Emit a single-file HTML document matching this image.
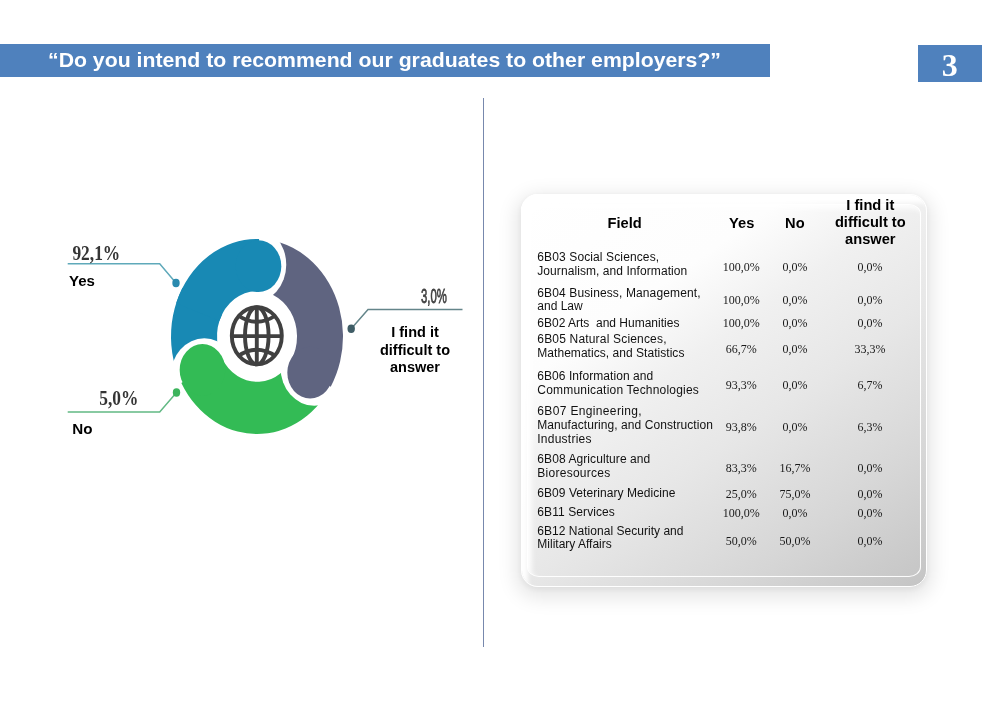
<!DOCTYPE html>
<html lang="en"><head><meta charset="utf-8"><title>Do you intend to recommend our graduates to other employers?</title>
<style>
html,body{margin:0;padding:0;background:#fff}
body{width:982px;height:720px;position:relative;overflow:hidden;font-family:"Liberation Sans",sans-serif}
.t{position:absolute;white-space:nowrap;margin:0;padding:0;font-kerning:none}
.bar{position:absolute;left:0;top:44px;width:770px;height:33px;background:#4f81bd}
.num{position:absolute;left:918px;top:45px;width:64px;height:36.5px;background:#4f81bd}
.vline{position:absolute;left:482.9px;top:98px;width:1.2px;height:548.5px;background:#7788ad}
.card{position:absolute;left:520.5px;top:194px;width:406.5px;height:393px;border-radius:17px;box-sizing:border-box;
 background:linear-gradient(145deg,#ffffff 0%,#fdfdfd 28%,#f0f0f0 42%,#e7e7e7 58%,#d6d6d6 80%,#c4c4c4 100%);
 box-shadow:0 6px 19px 5px rgba(0,0,0,0.10),0 2px 6px 1px rgba(0,0,0,0.05);}
.card:before{content:"";position:absolute;left:0;top:0;right:0;bottom:0;border-radius:17px;border:1.5px solid rgba(255,255,255,1);box-sizing:border-box;
 box-shadow:inset 8px 10px 4px -2px rgba(255,255,255,0.95)}
.card:after{content:"";position:absolute;left:6px;top:9.5px;right:6.2px;bottom:9.8px;border-radius:12px/10px;border:1.4px solid rgba(255,255,255,0.95);box-sizing:border-box;
 box-shadow:inset 4px 4px 5px rgba(255,255,255,0.8)}
.root{position:absolute;left:0;top:0;width:982px;height:720px;will-change:transform}
</style></head><body><div class="root">
<div class="bar"></div><div class="num"></div><div class="vline"></div>
<div class="card"></div>
<svg width="982" height="720" viewBox="0 0 982 720" style="position:absolute;left:0;top:0">
<g transform="translate(257,336.5) scale(1,1.134)">
<path d="M-65.49 55.74 A86 86 0 0 1 -74.48 -43.00 L-34.64 -20.00 A40 40 0 0 0 -30.46 25.92 Z" fill="#1889b4"/>
<circle cx="-52.71" cy="35.42" r="33.8" fill="#fff"/>
<path d="M79.74 32.22 A86 86 0 0 1 -75.65 40.90 L-35.19 19.02 A40 40 0 0 0 37.09 14.98 Z" fill="#33bb55"/>
<circle cx="-54.54" cy="29.49" r="22.8" fill="#33bb55"/>
<circle cx="57.31" cy="27.34" r="33.8" fill="#fff"/>
<path d="M-11.37 -85.24 A86 86 0 0 1 73.72 44.29 L34.29 20.60 A40 40 0 0 0 -5.29 -39.65 Z" fill="#5f6480"/>
<circle cx="53.14" cy="31.93" r="22.8" fill="#5f6480"/>
<circle cx="-4.54" cy="-63.34" r="33.8" fill="#fff"/>
<path d="M-80.81 -29.41 A86 86 0 0 1 2.10 -85.97 L0.98 -39.99 A40 40 0 0 0 -37.59 -13.68 Z" fill="#1889b4"/>
<circle cx="1.51" cy="-61.98" r="22.8" fill="#1889b4"/>
</g><g transform="translate(256.8,335.8)" fill="none" stroke="#404040" stroke-width="3.9">
<ellipse cx="0" cy="0" rx="25" ry="28.6"/>
<ellipse cx="0" cy="0" rx="11.8" ry="28.6"/>
<line x1="0" y1="-29" x2="0" y2="29"/>
<line x1="-25.4" y1="0.3" x2="25.4" y2="0.3"/>
<path d="M-18.7 -20.3 Q0 -7.7 18.7 -20.3"/>
<path d="M-18.7 20.3 Q0 7.7 18.7 20.3"/>
</g>
<g fill="none" stroke-width="1.5">
<polyline points="67.7,263.7 159.7,263.7 176,283" stroke="#5fa9ba"/>
<polyline points="67.7,412 159.7,412 176.5,392.5" stroke="#62b984"/>
<polyline points="462.5,309.5 368,309.5 351.2,328.7" stroke="#64858a"/>
</g>
<ellipse cx="176" cy="283" rx="3.7" ry="4.2" fill="#2a8aae"/>
<ellipse cx="176.5" cy="392.5" rx="3.7" ry="4.2" fill="#3cb45c"/>
<ellipse cx="351.2" cy="328.7" rx="3.7" ry="4.2" fill="#3f5d66"/>

<g font-family="'Liberation Serif',serif" font-weight="bold" fill="#353535">
<text transform="translate(72.4,259.6) scale(0.93,1.15)" font-size="18.7">92,1%</text>
<text transform="translate(99.2,404.7) scale(0.93,1.15)" font-size="18.7">5,0%</text>
</g>
<text transform="translate(421,302.7) scale(0.70,1.25)" font-family="'Liberation Sans',sans-serif" font-size="16.2" fill="#414141" stroke="#414141" stroke-width="0.6">3,0%</text>
</svg>
<div class="t" style="left:48.00px;top:47px;font:bold 21.25px/26px 'Liberation Sans',sans-serif;color:#fff;transform-origin:0 20px;transform:scaleY(0.93);">“Do you intend to recommend our graduates to other employers?”</div>
<div class="t" style="left:919.70px;width:60px;text-align:center;top:46px;font:bold 32px/38px 'Liberation Serif',serif;color:#fff;">3</div>
<div class="t" style="left:69.00px;top:271px;font:bold 15px/19px 'Liberation Sans',sans-serif;color:#000;">Yes</div>
<div class="t" style="left:72.30px;top:419px;font:bold 15.2px/19px 'Liberation Sans',sans-serif;color:#000;">No</div>
<div class="t" style="left:355.00px;width:120px;text-align:center;top:323px;font:bold 14.5px/18px 'Liberation Sans',sans-serif;color:#000;">I find it</div>
<div class="t" style="left:355.00px;width:120px;text-align:center;top:341px;font:bold 14.5px/18px 'Liberation Sans',sans-serif;color:#000;">difficult to</div>
<div class="t" style="left:355.00px;width:120px;text-align:center;top:358px;font:bold 14.5px/18px 'Liberation Sans',sans-serif;color:#000;">answer</div>
<div class="t" style="left:574.60px;width:100px;text-align:center;top:214px;font:bold 14.67px/18px 'Liberation Sans',sans-serif;color:#000;">Field</div>
<div class="t" style="left:691.70px;width:100px;text-align:center;top:214px;font:bold 14.67px/18px 'Liberation Sans',sans-serif;color:#000;">Yes</div>
<div class="t" style="left:744.90px;width:100px;text-align:center;top:214px;font:bold 14.67px/18px 'Liberation Sans',sans-serif;color:#000;">No</div>
<div class="t" style="left:810.30px;width:120px;text-align:center;top:196px;font:bold 14.67px/18px 'Liberation Sans',sans-serif;color:#000;">I find it</div>
<div class="t" style="left:810.30px;width:120px;text-align:center;top:213px;font:bold 14.67px/18px 'Liberation Sans',sans-serif;color:#000;">difficult to</div>
<div class="t" style="left:810.30px;width:120px;text-align:center;top:230px;font:bold 14.67px/18px 'Liberation Sans',sans-serif;color:#000;">answer</div>
<div class="t" style="left:537.30px;top:250px;font:normal 12px/14px 'Liberation Sans',sans-serif;color:#111;letter-spacing:0.12px;">6B03 Social Sciences,</div>
<div class="t" style="left:537.30px;top:264px;font:normal 12px/14px 'Liberation Sans',sans-serif;color:#111;letter-spacing:0.07px;">Journalism, and Information</div>
<div class="t" style="left:701.20px;width:80px;text-align:center;top:260px;font:normal 12px/14px 'Liberation Serif',serif;color:#1a1a1a;transform-origin:50% 11px;transform:scaleY(1.07);">100,0%</div>
<div class="t" style="left:755.00px;width:80px;text-align:center;top:260px;font:normal 12px/14px 'Liberation Serif',serif;color:#1a1a1a;transform-origin:50% 11px;transform:scaleY(1.07);">0,0%</div>
<div class="t" style="left:830.00px;width:80px;text-align:center;top:260px;font:normal 12px/14px 'Liberation Serif',serif;color:#1a1a1a;transform-origin:50% 11px;transform:scaleY(1.07);">0,0%</div>
<div class="t" style="left:537.30px;top:286px;font:normal 12px/14px 'Liberation Sans',sans-serif;color:#111;letter-spacing:0.125px;">6B04 Business, Management,</div>
<div class="t" style="left:537.30px;top:299px;font:normal 12px/14px 'Liberation Sans',sans-serif;color:#111;">and Law</div>
<div class="t" style="left:701.20px;width:80px;text-align:center;top:293px;font:normal 12px/14px 'Liberation Serif',serif;color:#1a1a1a;transform-origin:50% 11px;transform:scaleY(1.07);">100,0%</div>
<div class="t" style="left:755.00px;width:80px;text-align:center;top:293px;font:normal 12px/14px 'Liberation Serif',serif;color:#1a1a1a;transform-origin:50% 11px;transform:scaleY(1.07);">0,0%</div>
<div class="t" style="left:830.00px;width:80px;text-align:center;top:293px;font:normal 12px/14px 'Liberation Serif',serif;color:#1a1a1a;transform-origin:50% 11px;transform:scaleY(1.07);">0,0%</div>
<div class="t" style="left:537.30px;top:316px;font:normal 12px/14px 'Liberation Sans',sans-serif;color:#111;">6B02 Arts&nbsp; and Humanities</div>
<div class="t" style="left:701.20px;width:80px;text-align:center;top:316px;font:normal 12px/14px 'Liberation Serif',serif;color:#1a1a1a;transform-origin:50% 11px;transform:scaleY(1.07);">100,0%</div>
<div class="t" style="left:755.00px;width:80px;text-align:center;top:316px;font:normal 12px/14px 'Liberation Serif',serif;color:#1a1a1a;transform-origin:50% 11px;transform:scaleY(1.07);">0,0%</div>
<div class="t" style="left:830.00px;width:80px;text-align:center;top:316px;font:normal 12px/14px 'Liberation Serif',serif;color:#1a1a1a;transform-origin:50% 11px;transform:scaleY(1.07);">0,0%</div>
<div class="t" style="left:537.30px;top:332px;font:normal 12px/14px 'Liberation Sans',sans-serif;color:#111;letter-spacing:0.18px;">6B05 Natural Sciences,</div>
<div class="t" style="left:537.30px;top:346px;font:normal 12px/14px 'Liberation Sans',sans-serif;color:#111;letter-spacing:0.04px;">Mathematics, and Statistics</div>
<div class="t" style="left:701.20px;width:80px;text-align:center;top:342px;font:normal 12px/14px 'Liberation Serif',serif;color:#1a1a1a;transform-origin:50% 11px;transform:scaleY(1.07);">66,7%</div>
<div class="t" style="left:755.00px;width:80px;text-align:center;top:342px;font:normal 12px/14px 'Liberation Serif',serif;color:#1a1a1a;transform-origin:50% 11px;transform:scaleY(1.07);">0,0%</div>
<div class="t" style="left:830.00px;width:80px;text-align:center;top:342px;font:normal 12px/14px 'Liberation Serif',serif;color:#1a1a1a;transform-origin:50% 11px;transform:scaleY(1.07);">33,3%</div>
<div class="t" style="left:537.30px;top:369px;font:normal 12px/14px 'Liberation Sans',sans-serif;color:#111;letter-spacing:0.06px;">6B06 Information and</div>
<div class="t" style="left:537.30px;top:383px;font:normal 12px/14px 'Liberation Sans',sans-serif;color:#111;letter-spacing:0.2px;">Communication Technologies</div>
<div class="t" style="left:701.20px;width:80px;text-align:center;top:378px;font:normal 12px/14px 'Liberation Serif',serif;color:#1a1a1a;transform-origin:50% 11px;transform:scaleY(1.07);">93,3%</div>
<div class="t" style="left:755.00px;width:80px;text-align:center;top:378px;font:normal 12px/14px 'Liberation Serif',serif;color:#1a1a1a;transform-origin:50% 11px;transform:scaleY(1.07);">0,0%</div>
<div class="t" style="left:830.00px;width:80px;text-align:center;top:378px;font:normal 12px/14px 'Liberation Serif',serif;color:#1a1a1a;transform-origin:50% 11px;transform:scaleY(1.07);">6,7%</div>
<div class="t" style="left:537.30px;top:404px;font:normal 12px/14px 'Liberation Sans',sans-serif;color:#111;letter-spacing:0.35px;">6B07 Engineering,</div>
<div class="t" style="left:537.30px;top:418px;font:normal 12px/14px 'Liberation Sans',sans-serif;color:#111;letter-spacing:0.07px;">Manufacturing, and Construction</div>
<div class="t" style="left:537.30px;top:432px;font:normal 12px/14px 'Liberation Sans',sans-serif;color:#111;letter-spacing:0.24px;">Industries</div>
<div class="t" style="left:701.20px;width:80px;text-align:center;top:420px;font:normal 12px/14px 'Liberation Serif',serif;color:#1a1a1a;transform-origin:50% 11px;transform:scaleY(1.07);">93,8%</div>
<div class="t" style="left:755.00px;width:80px;text-align:center;top:420px;font:normal 12px/14px 'Liberation Serif',serif;color:#1a1a1a;transform-origin:50% 11px;transform:scaleY(1.07);">0,0%</div>
<div class="t" style="left:830.00px;width:80px;text-align:center;top:420px;font:normal 12px/14px 'Liberation Serif',serif;color:#1a1a1a;transform-origin:50% 11px;transform:scaleY(1.07);">6,3%</div>
<div class="t" style="left:537.30px;top:452px;font:normal 12px/14px 'Liberation Sans',sans-serif;color:#111;letter-spacing:0.08px;">6B08 Agriculture and</div>
<div class="t" style="left:537.30px;top:466px;font:normal 12px/14px 'Liberation Sans',sans-serif;color:#111;letter-spacing:0.27px;">Bioresources</div>
<div class="t" style="left:701.20px;width:80px;text-align:center;top:461px;font:normal 12px/14px 'Liberation Serif',serif;color:#1a1a1a;transform-origin:50% 11px;transform:scaleY(1.07);">83,3%</div>
<div class="t" style="left:755.00px;width:80px;text-align:center;top:461px;font:normal 12px/14px 'Liberation Serif',serif;color:#1a1a1a;transform-origin:50% 11px;transform:scaleY(1.07);">16,7%</div>
<div class="t" style="left:830.00px;width:80px;text-align:center;top:461px;font:normal 12px/14px 'Liberation Serif',serif;color:#1a1a1a;transform-origin:50% 11px;transform:scaleY(1.07);">0,0%</div>
<div class="t" style="left:537.30px;top:486px;font:normal 12px/14px 'Liberation Sans',sans-serif;color:#111;letter-spacing:0.06px;">6B09 Veterinary Medicine</div>
<div class="t" style="left:701.20px;width:80px;text-align:center;top:487px;font:normal 12px/14px 'Liberation Serif',serif;color:#1a1a1a;transform-origin:50% 11px;transform:scaleY(1.07);">25,0%</div>
<div class="t" style="left:755.00px;width:80px;text-align:center;top:487px;font:normal 12px/14px 'Liberation Serif',serif;color:#1a1a1a;transform-origin:50% 11px;transform:scaleY(1.07);">75,0%</div>
<div class="t" style="left:830.00px;width:80px;text-align:center;top:487px;font:normal 12px/14px 'Liberation Serif',serif;color:#1a1a1a;transform-origin:50% 11px;transform:scaleY(1.07);">0,0%</div>
<div class="t" style="left:537.30px;top:505px;font:normal 12px/14px 'Liberation Sans',sans-serif;color:#111;letter-spacing:0.09px;">6B11 Services</div>
<div class="t" style="left:701.20px;width:80px;text-align:center;top:506px;font:normal 12px/14px 'Liberation Serif',serif;color:#1a1a1a;transform-origin:50% 11px;transform:scaleY(1.07);">100,0%</div>
<div class="t" style="left:755.00px;width:80px;text-align:center;top:506px;font:normal 12px/14px 'Liberation Serif',serif;color:#1a1a1a;transform-origin:50% 11px;transform:scaleY(1.07);">0,0%</div>
<div class="t" style="left:830.00px;width:80px;text-align:center;top:506px;font:normal 12px/14px 'Liberation Serif',serif;color:#1a1a1a;transform-origin:50% 11px;transform:scaleY(1.07);">0,0%</div>
<div class="t" style="left:537.30px;top:524px;font:normal 12px/14px 'Liberation Sans',sans-serif;color:#111;letter-spacing:0.03px;">6B12 National Security and</div>
<div class="t" style="left:537.30px;top:537px;font:normal 12px/14px 'Liberation Sans',sans-serif;color:#111;">Military Affairs</div>
<div class="t" style="left:701.20px;width:80px;text-align:center;top:534px;font:normal 12px/14px 'Liberation Serif',serif;color:#1a1a1a;transform-origin:50% 11px;transform:scaleY(1.07);">50,0%</div>
<div class="t" style="left:755.00px;width:80px;text-align:center;top:534px;font:normal 12px/14px 'Liberation Serif',serif;color:#1a1a1a;transform-origin:50% 11px;transform:scaleY(1.07);">50,0%</div>
<div class="t" style="left:830.00px;width:80px;text-align:center;top:534px;font:normal 12px/14px 'Liberation Serif',serif;color:#1a1a1a;transform-origin:50% 11px;transform:scaleY(1.07);">0,0%</div>
</div></body></html>
